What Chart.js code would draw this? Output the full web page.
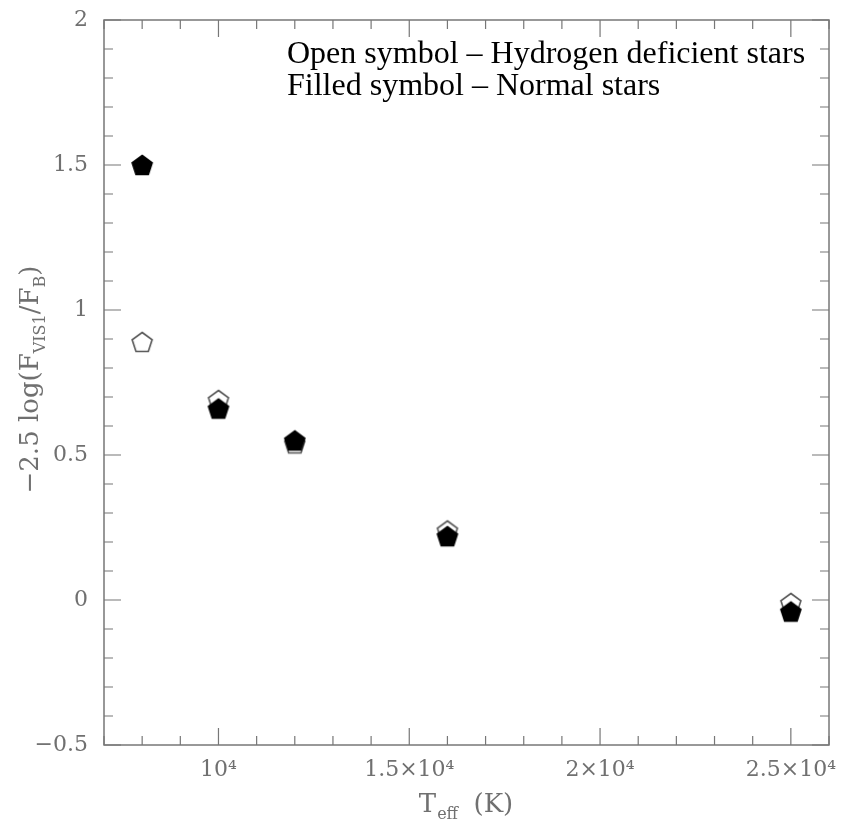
<!DOCTYPE html>
<html>
<head>
<meta charset="utf-8">
<script src="https://cdn.jsdelivr.net/npm/chart.js@4.4.1/dist/chart.umd.min.js"></script>
<style>
  html, body { margin: 0; padding: 0; background: #fff; }
  #wrap { width: 846px; height: 829px; }
</style>
</head>
<body>
<div id="wrap"><canvas id="fluxChart"></canvas></div>
<script>
// effective temperatures of the models (K)
const tempK = [8000, 10000, 12000, 16000, 25000];
// -2.5 log(F_VIS1/F_B)
const hDeficient = [0.89, 0.69, 0.54, 0.24, -0.01];
const normalStars = [1.50, 0.66, 0.55, 0.22, -0.04];

const xTickValues = [10000, 15000, 20000, 25000];
const xTickLabels = ['10⁴', '1.5×10⁴', '2×10⁴', '2.5×10⁴'];
const yTickValues = [-0.5, 0, 0.5, 1, 1.5, 2];
const yTickLabels = ['−0.5', '0', '0.5', '1', '1.5', '2'];

const legendLines = ['Open symbol – Hydrogen deficient stars', 'Filled symbol – Normal stars'];

const axisGrey = '#707070';
const labelFont = '"DejaVu Serif", serif';

function pentagon(fill, stroke) {
    const c = document.createElement('canvas');
    c.width = 26; c.height = 26;
    const g = c.getContext('2d');
    g.beginPath();
    for (let k = 0; k < 5; k++) {
        const a = (-90 + k * 72) * Math.PI / 180;
        const px = 13 + 10.5 * Math.cos(a), py = 14 + 10.5 * Math.sin(a);
        k ? g.lineTo(px, py) : g.moveTo(px, py);
    }
    g.closePath();
    g.fillStyle = fill;
    g.fill();
    g.lineWidth = 1.6;
    g.strokeStyle = stroke;
    g.stroke();
    return c;
}

const openMark = pentagon('#fff', '#555');
const filledMark = pentagon('#000', '#000');

// frame with inward ticks on all four sides, plus axis titles and note
const framePlugin = {
    id: 'frame',
    afterDraw(chart) {
        const { ctx, chartArea: a, scales } = chart;
        const xs = scales.x, ys = scales.y;
        ctx.save();
        ctx.strokeStyle = '#777';
        ctx.lineWidth = 1.5;
        ctx.strokeRect(a.left, a.top, a.right - a.left, a.bottom - a.top);
        ctx.lineWidth = 1.2;
        ctx.beginPath();
        for (let v = 7000; v <= 26000; v += 1000) {
            const px = xs.getPixelForValue(v);
            const len = v % 5000 === 0 ? 17 : 9;
            ctx.moveTo(px, a.bottom); ctx.lineTo(px, a.bottom - len);
            ctx.moveTo(px, a.top); ctx.lineTo(px, a.top + len);
        }
        for (let i = -5; i <= 20; i++) {
            const py = ys.getPixelForValue(i / 10);
            const len = i % 5 === 0 ? 17 : 9;
            ctx.moveTo(a.left, py); ctx.lineTo(a.left + len, py);
            ctx.moveTo(a.right, py); ctx.lineTo(a.right - len, py);
        }
        ctx.stroke();

        // x title: T_eff (K)
        ctx.fillStyle = axisGrey;
        ctx.textBaseline = 'alphabetic';
        const big = '26px ' + labelFont, small = '16px ' + labelFont;
        ctx.font = big;
        const wT = ctx.measureText('T').width;
        ctx.font = small;
        const wSub = ctx.measureText('eff').width;
        ctx.font = big;
        const wK = ctx.measureText('  (K)').width;
        let x0 = 466 - (wT + wSub + wK) / 2;
        const by = 812;
        ctx.textAlign = 'left';
        ctx.fillText('T', x0, by);
        ctx.font = small;
        ctx.fillText('eff', x0 + wT + 1, by + 7);
        ctx.font = big;
        ctx.fillText('  (K)', x0 + wT + wSub, by);

        // y title: -2.5 log(F_VIS1/F_B)
        const parts = [['−2.5 log(F', big, 0], ['VIS1', small, 7], ['/F', big, 0], ['B', small, 7], [')', big, 0]];
        let total = 0;
        parts.forEach(p => { ctx.font = p[1]; total += ctx.measureText(p[0]).width; });
        ctx.translate(38, (a.top + a.bottom) / 2 - 3);
        ctx.rotate(-Math.PI / 2);
        let cx = -total / 2;
        parts.forEach(p => {
            ctx.font = p[1];
            ctx.fillText(p[0], cx, p[2]);
            cx += ctx.measureText(p[0]).width;
        });
        ctx.restore();

        // note in the top right corner
        ctx.save();
        ctx.fillStyle = '#000';
        ctx.font = '32px "Liberation Serif", serif';
        ctx.textAlign = 'left';
        ctx.fillText(legendLines[0], 287, 63);
        ctx.fillText(legendLines[1], 287, 95);
        ctx.restore();
    }
};

const ctx = document.getElementById('fluxChart').getContext('2d');
const fluxChart = new Chart(ctx, {
    type: 'scatter',
    data: {
        datasets: [{
            label: 'Normal stars',
            data: tempK.map((t, i) => ({ x: t, y: normalStars[i] })),
            pointStyle: filledMark,
            pointRadius: 11,
            order: 0
        }, {
            label: 'Hydrogen deficient stars',
            data: tempK.map((t, i) => ({ x: t, y: hDeficient[i] })),
            pointStyle: openMark,
            pointRadius: 11,
            order: 1
        }]
    },
    options: {
        responsive: true,
        maintainAspectRatio: false,
        animation: false,
        plugins: {
            legend: { display: false },
            tooltip: { enabled: false }
        },
        layout: {
            padding: { top: 20, right: 17, left: 0, bottom: 0 }
        },
        scales: {
            x: {
                type: 'linear',
                min: 7000,
                max: 26000,
                afterBuildTicks: s => { s.ticks = xTickValues.map(v => ({ value: v })); },
                afterFit: s => { s.height = 84; s.paddingLeft = 0; s.paddingRight = 0; },
                ticks: {
                    color: axisGrey,
                    font: { family: labelFont, size: 22 },
                    padding: 12,
                    maxRotation: 0,
                    callback: v => xTickLabels[xTickValues.indexOf(v)]
                },
                grid: { display: false, drawTicks: false },
                border: { display: false }
            },
            y: {
                min: -0.5,
                max: 2,
                afterBuildTicks: s => { s.ticks = yTickValues.map(v => ({ value: v })); },
                afterFit: s => { s.width = 104; s.paddingTop = 0; s.paddingBottom = 0; },
                ticks: {
                    color: axisGrey,
                    font: { family: labelFont, size: 22 },
                    padding: 16,
                    callback: v => yTickLabels[yTickValues.indexOf(v)]
                },
                grid: { display: false, drawTicks: false },
                border: { display: false }
            }
        }
    },
    plugins: [framePlugin]
});
</script>
</body>
</html>
